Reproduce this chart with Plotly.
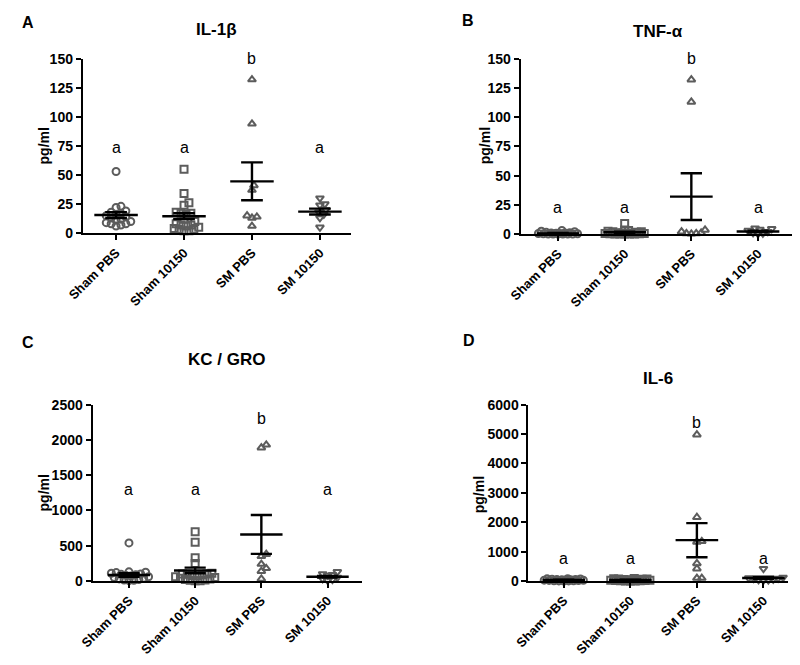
import plotly.graph_objects as go

# ---------------- data ----------------
GROUPS = ["Sham PBS", "Sham 10150", "SM PBS", "SM 10150"]

IL1B_SHAM_PBS = [53, 23, 22, 19, 18, 17, 16, 15, 14, 13, 12, 11, 10, 9, 8, 8, 7, 6]
IL1B_SHAM_10150 = [55, 34, 26, 24, 18, 17, 17, 16, 12, 10, 8, 7, 7, 6, 5, 4, 3, 3, 2, 2]
IL1B_SM_PBS = [132, 94, 41, 37, 15, 14, 13, 6]
IL1B_SM_10150 = [30, 25, 24, 20, 18, 16, 13, 5]
IL1B_MEAN = [15.5, 14.5, 44.5, 18.5]
IL1B_SEM = [2.5, 2.5, 16.3, 2.5]
IL1B_LETTERS = ["a", "a", "b", "a"]
IL1B_LETTER_Y = [74, 74, 150, 74]

TNF_SHAM_PBS = [3, 2.5, 2, 1.5, 1.2, 1, 1, 0.8, 0.5, 0.5, 0.3, 0.2, 0.1, 0, 0, 0, 0, 0]
TNF_SHAM_10150 = [9, 3.5, 3, 2.5, 2, 2, 1.5, 1.2, 1, 1, 0.8, 0.5, 0.5, 0.3, 0.2, 0, 0, 0, 0, 0]
TNF_SM_PBS = [132, 113, 3.5, 2, 1, 0.5, 0.5, 0.2]
TNF_SM_10150 = [5, 4.5, 4, 3, 2, 1, 0.5, 0.2]
TNF_MEAN = [0.6, 1.5, 32, 2.2]
TNF_SEM = [0.3, 0.5, 20, 0.7]
TNF_LETTERS = ["a", "a", "b", "a"]
TNF_LETTER_Y = [23, 23, 150, 23]

KC_SHAM_PBS = [540, 130, 125, 120, 110, 100, 95, 90, 80, 70, 60, 50, 40, 30, 20, 15, 10, 5]
KC_SHAM_10150 = [700, 550, 330, 250, 110, 100, 100, 95, 90, 80, 70, 60, 50, 40, 30, 20, 15, 10, 5, 5]
KC_SM_PBS = [1930, 1890, 380, 350, 240, 180, 140, 30]
KC_SM_10150 = [130, 100, 90, 80, 50, 30, 20, 10]
KC_MEAN = [85, 150, 660, 60]
KC_SEM = [25, 40, 275, 12]
KC_LETTERS = ["a", "a", "b", "a"]
KC_LETTER_Y = [1295, 1295, 2300, 1295]

IL6_SHAM_PBS = [80, 75, 70, 60, 55, 50, 45, 40, 35, 30, 25, 20, 15, 10, 8, 5, 3, 0]
IL6_SHAM_10150 = [90, 80, 70, 65, 60, 50, 45, 40, 35, 30, 25, 20, 15, 10, 8, 5, 3, 0]
IL6_SM_PBS = [4980, 2170, 1350, 1330, 600, 420, 100, 100]
IL6_SM_10150 = [420, 120, 100, 90, 80, 60, 40, 30, 20]
IL6_MEAN = [35, 38, 1390, 105]
IL6_SEM = [8, 8, 580, 40]
IL6_LETTERS = ["a", "a", "b", "a"]
IL6_LETTER_Y = [770, 770, 5400, 770]

YTICKS_A = [0, 25, 50, 75, 100, 125, 150]
YTICKS_B = [0, 25, 50, 75, 100, 125, 150]
YTICKS_C = [0, 500, 1000, 1500, 2000, 2500]
YTICKS_D = [0, 1000, 2000, 3000, 4000, 5000, 6000]

# ---------------- layout / style ----------------
PAGE_MARGIN = 8                    # default body margin of the html page
W, H = 800 - 2 * PAGE_MARGIN, 665 - 2 * PAGE_MARGIN
FONT = "Liberation Sans, Arial, sans-serif"
MARK_COLOR = "#5c5c5c"
SYMBOLS = ["circle-open", "square-open", "triangle-up-open", "triangle-down-open"]

# positions below are screen pixels of the 800x665 window
panels = [
    dict(title="<b>IL-1β</b>", letter="A",
         groups=[IL1B_SHAM_PBS, IL1B_SHAM_10150, IL1B_SM_PBS, IL1B_SM_10150],
         mean=IL1B_MEAN, sem=IL1B_SEM, letters=IL1B_LETTERS, letter_y=IL1B_LETTER_Y,
         yticks=YTICKS_A, xpx=(68, 342), ypx=(232, 52), xrange=(-0.49, 3.46),
         title_pos=(205, 22), letter_pos=(12, 15), ylab_pos=(28, 142)),
    dict(title="<b>TNF-α</b>", letter="B",
         groups=[TNF_SHAM_PBS, TNF_SHAM_10150, TNF_SM_PBS, TNF_SM_10150],
         mean=TNF_MEAN, sem=TNF_SEM, letters=TNF_LETTERS, letter_y=TNF_LETTER_Y,
         yticks=YTICKS_B, xpx=(515, 792), ypx=(233, 52), xrange=(-0.56, 3.51),
         title_pos=(655, 24), letter_pos=(461, 13), ylab_pos=(478, 142)),
    dict(title="<b>KC / GRO</b>", letter="C",
         groups=[KC_SHAM_PBS, KC_SHAM_10150, KC_SM_PBS, KC_SM_10150],
         mean=KC_MEAN, sem=KC_SEM, letters=KC_LETTERS, letter_y=KC_LETTER_Y,
         yticks=YTICKS_C, xpx=(78, 353), ypx=(591, 409), xrange=(-0.55, 3.52),
         title_pos=(215, 362), letter_pos=(12, 345), ylab_pos=(28, 500)),
    dict(title="<b>IL-6</b>", letter="D",
         groups=[IL6_SHAM_PBS, IL6_SHAM_10150, IL6_SM_PBS, IL6_SM_10150],
         mean=IL6_MEAN, sem=IL6_SEM, letters=IL6_LETTERS, letter_y=IL6_LETTER_Y,
         yticks=YTICKS_D, xpx=(523, 788), ypx=(591, 409), xrange=(-0.53, 3.37),
         title_pos=(655, 382), letter_pos=(462, 343), ylab_pos=(472, 502)),
]


def px(x):
    return (x - PAGE_MARGIN) / W


def py(y):
    return 1 - (y - PAGE_MARGIN) / H


def swarm(values, py_per_unit, px_per_cat, dmin=5.0, maxoff=20):
    """Deterministic beeswarm offsets (in category units)."""
    order = sorted(range(len(values)), key=lambda i: values[i])
    cands = [0] + [s * k for k in range(1, maxoff + 1) for s in (1, -1)]
    placed = []
    out = [0.0] * len(values)
    for i in order:
        y = values[i] * py_per_unit
        best, bestd = 0, -1
        for c in cands:
            d = min(((c - qx) ** 2 + (y - qy) ** 2) ** 0.5 for qx, qy in placed) if placed else 1e9
            if d >= dmin:
                best = c
                break
            if d > bestd:
                bestd, best = d, c
        placed.append((best, y))
        out[i] = best / px_per_cat
    return out


fig = go.Figure()
annotations = []
layout_axes = {}

for k, p in enumerate(panels):
    n = k + 1
    xa = "x" if n == 1 else f"x{n}"
    ya = "y" if n == 1 else f"y{n}"
    xkey = "xaxis" if n == 1 else f"xaxis{n}"
    ykey = "yaxis" if n == 1 else f"yaxis{n}"
    x0, x1 = p["xpx"]
    yb, yt = p["ypx"]
    ymax = p["yticks"][-1]
    py_per_unit = (yb - yt) / ymax
    px_per_cat = (x1 - x0) / (p["xrange"][1] - p["xrange"][0])

    for g, vals in enumerate(p["groups"]):
        offs = swarm(vals, py_per_unit, px_per_cat)
        fig.add_trace(go.Scatter(
            x=[g + o for o in offs], y=vals, mode="markers", xaxis=xa, yaxis=ya,
            cliponaxis=False, showlegend=False, hoverinfo="y",
            marker=dict(symbol=SYMBOLS[g], size=7, color=MARK_COLOR,
                        line=dict(color=MARK_COLOR, width=2)),
        ))

    # mean +/- SEM
    lx, ly = [], []
    hw, cw = 0.32, 0.16
    for g, (m, s) in enumerate(zip(p["mean"], p["sem"])):
        lx += [g - hw, g + hw, None, g, g, None, g - cw, g + cw, None, g - cw, g + cw, None]
        ly += [m, m, None, m - s, m + s, None, m + s, m + s, None, m - s, m - s, None]
    fig.add_trace(go.Scatter(x=lx, y=ly, mode="lines", xaxis=xa, yaxis=ya,
                             cliponaxis=False, showlegend=False, hoverinfo="skip",
                             line=dict(color="black", width=2.4)))

    # significance letters
    for g, (t, yv) in enumerate(zip(p["letters"], p["letter_y"])):
        annotations.append(dict(x=g, y=yv, xref=xa, yref=ya, text=t, showarrow=False,
                                font=dict(family=FONT, size=16, color="black"),
                                xanchor="center", yanchor="middle"))

    layout_axes[xkey] = dict(
        domain=[px(x0), px(x1)], range=list(p["xrange"]), anchor=ya,
        tickmode="array", tickvals=[0, 1, 2, 3], ticktext=[f"<b>{t}</b>" for t in GROUPS],
        tickangle=-45, ticks="outside", ticklen=5, tickwidth=2, tickcolor="black",
        showline=True, linewidth=2, linecolor="black", showgrid=False, zeroline=False,
        tickfont=dict(family=FONT, size=13, color="black"),
    )
    layout_axes[ykey] = dict(
        domain=[py(yb), py(yt)], range=[0, ymax], anchor=xa,
        tickmode="array", tickvals=p["yticks"], ticktext=[f"<b>{v}</b>" for v in p["yticks"]],
        ticks="outside", ticklen=5, tickwidth=2, tickcolor="black",
        showline=True, linewidth=2, linecolor="black", showgrid=False, zeroline=False,
        tickfont=dict(family=FONT, size=14, color="black"),
    )

    tx, ty = p["title_pos"]
    annotations.append(dict(x=px(tx), y=py(ty), xref="paper", yref="paper",
                            text=p["title"], showarrow=False,
                            font=dict(family=FONT, size=17, color="black"),
                            xanchor="center", yanchor="middle"))
    lx_, ly_ = p["letter_pos"]
    annotations.append(dict(x=px(lx_), y=py(ly_), xref="paper", yref="paper",
                            text=f"<b>{p['letter']}</b>", showarrow=False,
                            font=dict(family=FONT, size=16, color="black"),
                            xanchor="center", yanchor="middle"))
    ax_, ay_ = p["ylab_pos"]
    annotations.append(dict(x=px(ax_), y=py(ay_), xref="paper", yref="paper",
                            text="<b>pg/ml</b>", showarrow=False, textangle=-90,
                            font=dict(family=FONT, size=14, color="black"),
                            xanchor="center", yanchor="middle"))

fig.update_layout(
    width=W, height=H, margin=dict(l=0, r=0, t=0, b=0),
    paper_bgcolor="white", plot_bgcolor="white",
    font=dict(family=FONT, color="black"),
    annotations=annotations, showlegend=False,
    **layout_axes,
)

fig.write_html("out.html", config={"displayModeBar": False})
